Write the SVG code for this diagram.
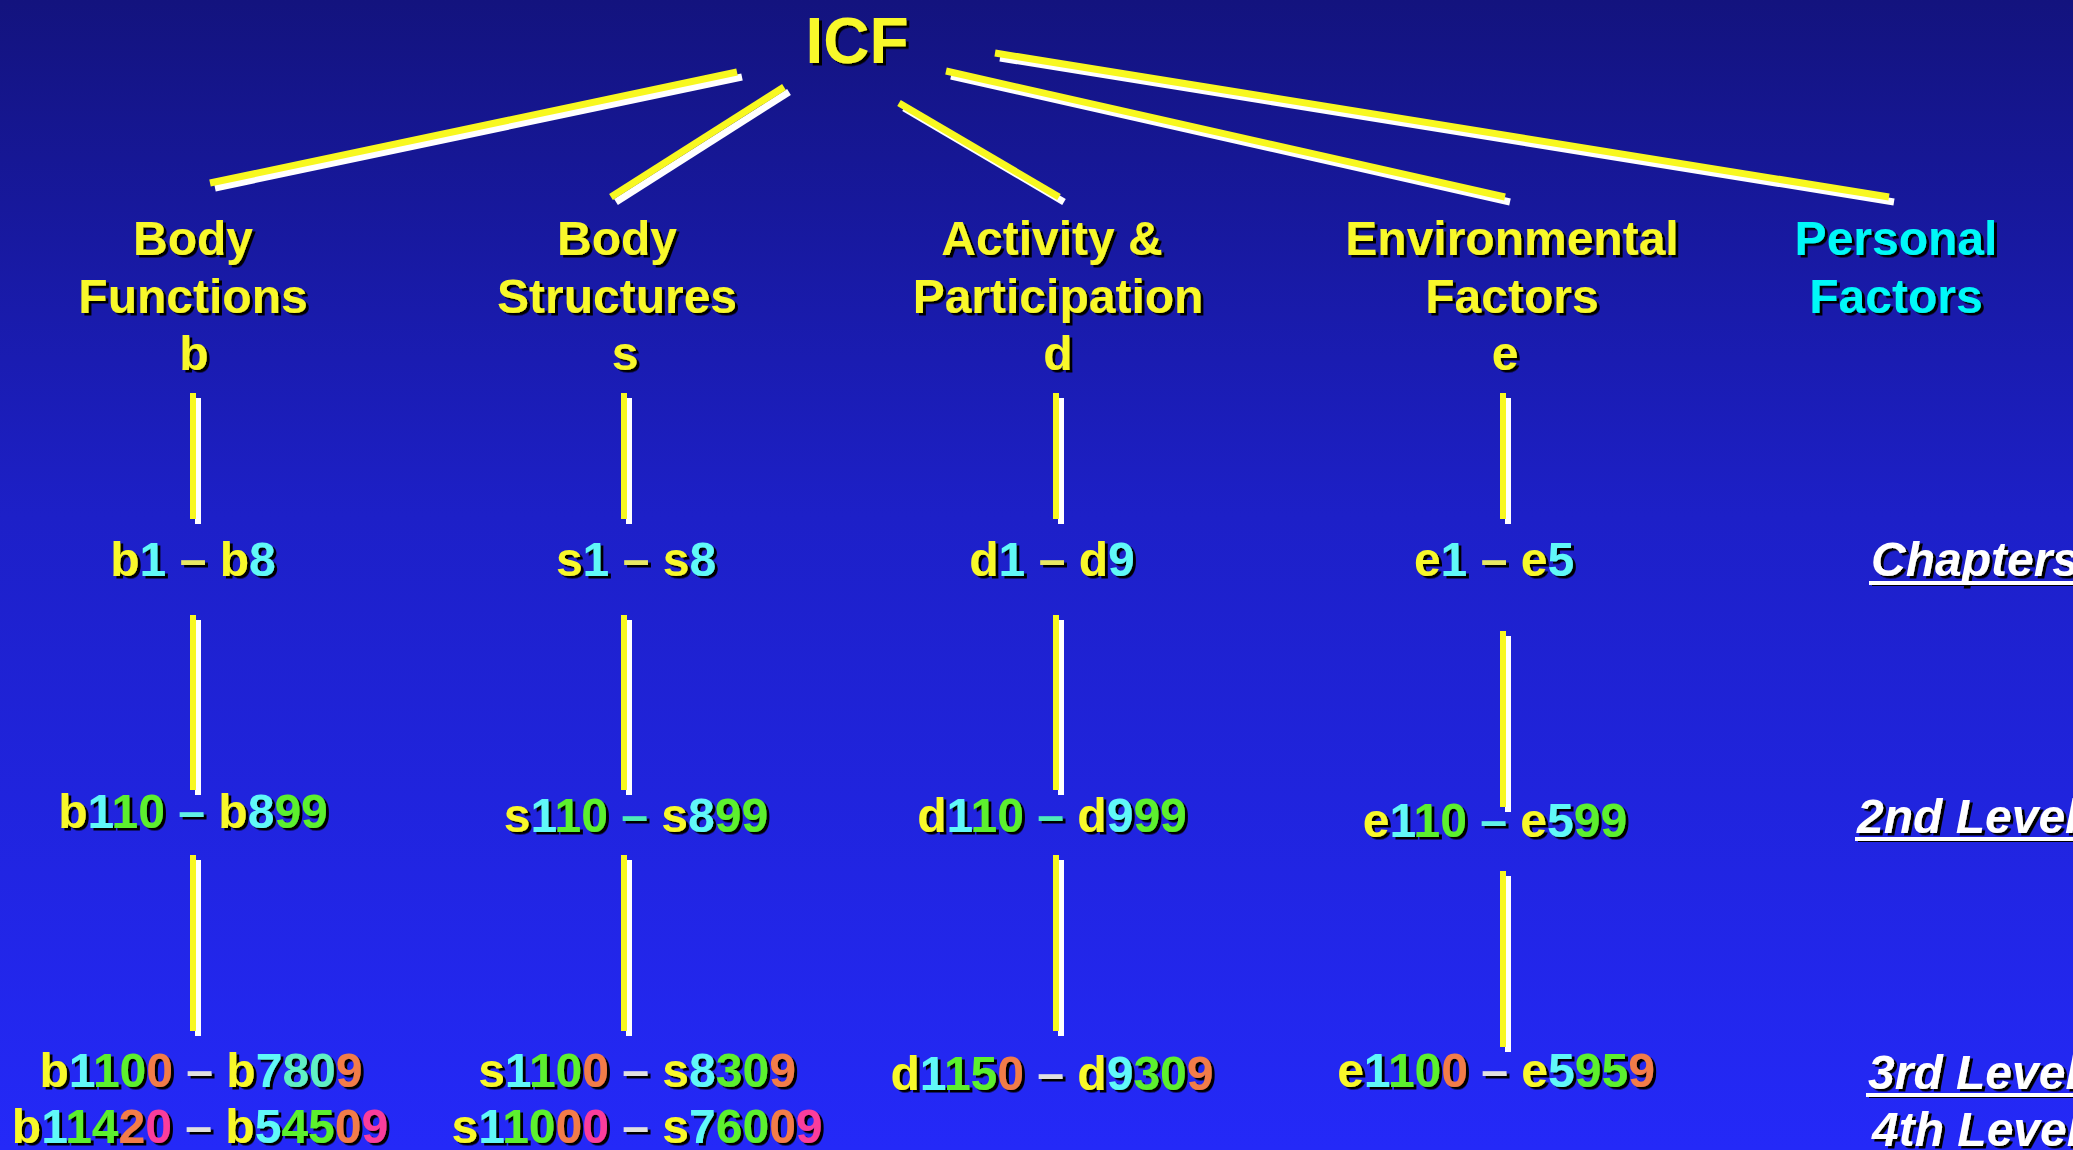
<svg xmlns="http://www.w3.org/2000/svg" width="2073" height="1150" viewBox="0 0 2073 1150">
<defs>
<linearGradient id="bg" x1="0" y1="0" x2="0" y2="1">
<stop offset="0" stop-color="#13137E"/>
<stop offset="0.45" stop-color="#1D20C8"/>
<stop offset="1" stop-color="#2429F8"/>
</linearGradient>
<filter id="sh" x="-5%" y="-10%" width="110%" height="130%">
<feDropShadow dx="3" dy="2.5" stdDeviation="0" flood-color="#000" flood-opacity="1"/>
</filter>
</defs>
<style>
text{font-family:"Liberation Sans",Arial,sans-serif;font-weight:bold;font-size:48px;filter:url(#sh)}
.mid{text-anchor:middle}
.hd{fill:#F8F82C}
.pf{fill:#00F8F8}
.lab{fill:#FFFFFF;font-style:italic}
.y{fill:#F8F82C}.c{fill:#60F8F8}.g{fill:#5CF02E}.o{fill:#F27C48}.p{fill:#FA3C9C}.t{fill:#60F0C4}
.gd{fill:#E0E0E0}.pd{fill:#E8E864}.cd{fill:#60F0E8}.td{fill:#50ECB8}
.ly{stroke:#F8F820;stroke-width:7;fill:none}
.lw{stroke:#FFFFFF;stroke-width:7;fill:none}
.vy{stroke:#F8F820;stroke-width:6;fill:none}
.vw{stroke:#FFFFFF;stroke-width:6;fill:none}
.ul{fill:#FFFFFF;filter:url(#sh)}
</style>
<rect x="0" y="0" width="2073" height="1150" fill="url(#bg)"/>

<g id="connectors">
<!-- diagonal lines from ICF: white shadow then yellow -->
<line class="lw" x1="215" y1="188" x2="742" y2="77"/>
<line class="ly" x1="210" y1="183" x2="737" y2="72"/>
<line class="lw" x1="616" y1="202" x2="789" y2="92"/>
<line class="ly" x1="611" y1="197" x2="784" y2="87"/>
<line class="lw" x1="904" y1="108" x2="1064" y2="202"/>
<line class="ly" x1="899" y1="103" x2="1059" y2="197"/>
<line class="lw" x1="951" y1="76" x2="1510" y2="202"/>
<line class="ly" x1="946" y1="71" x2="1505" y2="197"/>
<line class="lw" x1="1000" y1="58" x2="1894" y2="202"/>
<line class="ly" x1="995" y1="53" x2="1889" y2="197"/>
<!-- vertical lines -->
<g>
<line class="vw" x1="198" y1="398" x2="198" y2="524"/><line class="vy" x1="193" y1="393" x2="193" y2="519"/>
<line class="vw" x1="198" y1="620" x2="198" y2="795"/><line class="vy" x1="193" y1="615" x2="193" y2="790"/>
<line class="vw" x1="198" y1="860" x2="198" y2="1036"/><line class="vy" x1="193" y1="855" x2="193" y2="1031"/>
</g>
<g>
<line class="vw" x1="629" y1="398" x2="629" y2="524"/><line class="vy" x1="624" y1="393" x2="624" y2="519"/>
<line class="vw" x1="629" y1="620" x2="629" y2="795"/><line class="vy" x1="624" y1="615" x2="624" y2="790"/>
<line class="vw" x1="629" y1="860" x2="629" y2="1036"/><line class="vy" x1="624" y1="855" x2="624" y2="1031"/>
</g>
<g>
<line class="vw" x1="1061" y1="398" x2="1061" y2="524"/><line class="vy" x1="1056" y1="393" x2="1056" y2="519"/>
<line class="vw" x1="1061" y1="620" x2="1061" y2="795"/><line class="vy" x1="1056" y1="615" x2="1056" y2="790"/>
<line class="vw" x1="1061" y1="860" x2="1061" y2="1036"/><line class="vy" x1="1056" y1="855" x2="1056" y2="1031"/>
</g>
<g>
<line class="vw" x1="1508" y1="398" x2="1508" y2="524"/><line class="vy" x1="1503" y1="393" x2="1503" y2="519"/>
<line class="vw" x1="1508" y1="636" x2="1508" y2="812"/><line class="vy" x1="1503" y1="631" x2="1503" y2="807"/>
<line class="vw" x1="1508" y1="876" x2="1508" y2="1052"/><line class="vy" x1="1503" y1="871" x2="1503" y2="1047"/>
</g>
</g>

<g id="icf"><text class="mid hd" x="857" y="63" style="font-size:64px">ICF</text></g>

<g id="body-functions">
<text class="mid hd" x="193" y="255">Body</text>
<text class="mid hd" x="193" y="313">Functions</text>
<text class="mid hd" x="194" y="370">b</text>
</g>
<g id="body-structures">
<text class="mid hd" x="617" y="255">Body</text>
<text class="mid hd" x="617" y="313">Structures</text>
<text class="mid hd" x="625" y="370">s</text>
</g>
<g id="activity-participation">
<text class="mid hd" x="1052" y="255">Activity &amp;</text>
<text class="mid hd" x="1058" y="313">Participation</text>
<text class="mid hd" x="1058" y="370">d</text>
</g>
<g id="environmental-factors">
<text class="mid hd" x="1512" y="255">Environmental</text>
<text class="mid hd" x="1512" y="313">Factors</text>
<text class="mid hd" x="1505" y="370">e</text>
</g>
<g id="personal-factors">
<text class="mid pf" x="1896" y="255">Personal</text>
<text class="mid pf" x="1896" y="313">Factors</text>
</g>

<g id="b-chapters"><text class="mid" x="193" y="576"><tspan class="y">b</tspan><tspan class="c">1</tspan> <tspan class="pd">–</tspan> <tspan class="y">b</tspan><tspan class="c">8</tspan></text></g>
<g id="s-chapters"><text class="mid" x="636" y="576"><tspan class="y">s</tspan><tspan class="c">1</tspan> <tspan class="pd">–</tspan> <tspan class="y">s</tspan><tspan class="c">8</tspan></text></g>
<g id="d-chapters"><text class="mid" x="1052" y="576"><tspan class="y">d</tspan><tspan class="c">1</tspan> <tspan class="pd">–</tspan> <tspan class="y">d</tspan><tspan class="c">9</tspan></text></g>
<g id="e-chapters"><text class="mid" x="1494" y="576"><tspan class="y">e</tspan><tspan class="c">1</tspan> <tspan class="pd">–</tspan> <tspan class="y">e</tspan><tspan class="c">5</tspan></text></g>

<g id="b-2nd"><text class="mid" x="193" y="828"><tspan class="y">b</tspan><tspan class="c">1</tspan><tspan class="g">10</tspan> <tspan class="cd">–</tspan> <tspan class="y">b</tspan><tspan class="c">8</tspan><tspan class="g">99</tspan></text></g>
<g id="s-2nd"><text class="mid" x="636" y="832"><tspan class="y">s</tspan><tspan class="c">1</tspan><tspan class="g">10</tspan> <tspan class="td">–</tspan> <tspan class="y">s</tspan><tspan class="c">8</tspan><tspan class="g">99</tspan></text></g>
<g id="d-2nd"><text class="mid" x="1052" y="832"><tspan class="y">d</tspan><tspan class="c">1</tspan><tspan class="g">10</tspan> <tspan class="td">–</tspan> <tspan class="y">d</tspan><tspan class="c">9</tspan><tspan class="g">99</tspan></text></g>
<g id="e-2nd"><text class="mid" x="1495" y="837"><tspan class="y">e</tspan><tspan class="c">1</tspan><tspan class="g">10</tspan> <tspan class="cd">–</tspan> <tspan class="y">e</tspan><tspan class="c">5</tspan><tspan class="g">99</tspan></text></g>

<g id="b-3rd-4th">
<text class="mid" x="201" y="1087"><tspan class="y">b</tspan><tspan class="c">1</tspan><tspan class="g">10</tspan><tspan class="o">0</tspan> <tspan class="gd">–</tspan> <tspan class="y">b</tspan><tspan class="c">7</tspan><tspan class="t">80</tspan><tspan class="o">9</tspan></text>
<text class="mid" x="200" y="1143"><tspan class="y">b</tspan><tspan class="c">1</tspan><tspan class="g">14</tspan><tspan class="o">2</tspan><tspan class="p">0</tspan> <tspan class="gd">–</tspan> <tspan class="y">b</tspan><tspan class="c">5</tspan><tspan class="g">45</tspan><tspan class="o">0</tspan><tspan class="p">9</tspan></text>
</g>
<g id="s-3rd-4th">
<text class="mid" x="637" y="1087"><tspan class="y">s</tspan><tspan class="c">1</tspan><tspan class="g">10</tspan><tspan class="o">0</tspan> <tspan class="gd">–</tspan> <tspan class="y">s</tspan><tspan class="c">8</tspan><tspan class="g">30</tspan><tspan class="o">9</tspan></text>
<text class="mid" x="637" y="1143"><tspan class="y">s</tspan><tspan class="c">1</tspan><tspan class="g">10</tspan><tspan class="o">0</tspan><tspan class="p">0</tspan> <tspan class="gd">–</tspan> <tspan class="y">s</tspan><tspan class="c">7</tspan><tspan class="g">60</tspan><tspan class="o">0</tspan><tspan class="p">9</tspan></text>
</g>
<g id="d-3rd"><text class="mid" x="1052" y="1090"><tspan class="y">d</tspan><tspan class="c">1</tspan><tspan class="g">15</tspan><tspan class="o">0</tspan> <tspan class="gd">–</tspan> <tspan class="y">d</tspan><tspan class="c">9</tspan><tspan class="g">30</tspan><tspan class="o">9</tspan></text></g>
<g id="e-3rd"><text class="mid" x="1496" y="1087"><tspan class="y">e</tspan><tspan class="c">1</tspan><tspan class="g">10</tspan><tspan class="o">0</tspan> <tspan class="gd">–</tspan> <tspan class="y">e</tspan><tspan class="c">5</tspan><tspan class="g">95</tspan><tspan class="o">9</tspan></text></g>

<g id="level-labels">
<text class="lab" x="1871" y="576">Chapters</text>
<rect class="ul" x="1869" y="581" width="210" height="4"/>
<text class="lab" x="1857" y="833">2nd Level</text>
<rect class="ul" x="1855" y="837" width="230" height="4"/>
<text class="lab" x="1868" y="1089">3rd Level</text>
<rect class="ul" x="1866" y="1093" width="220" height="4"/>
<text class="lab" x="1872" y="1146">4th Level</text>
</g>
</svg>
